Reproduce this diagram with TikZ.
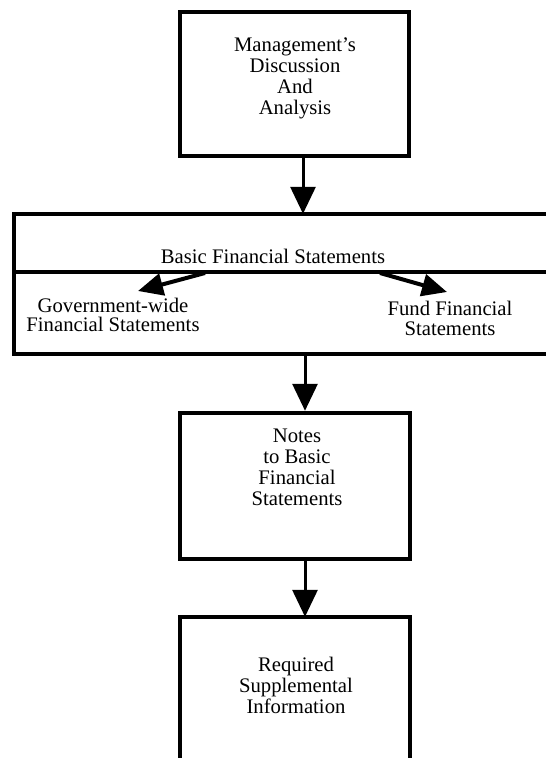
\documentclass[tikz,border=0pt]{standalone}
\usepackage{fontspec}
\setmainfont{Liberation Serif}
\usetikzlibrary{arrows.meta}
\begin{document}
\begin{tikzpicture}[x=1pt,y=-1pt,
  border/.style={line width=4.5pt, line cap=butt, line join=miter},
  box/.style={draw, border, inner sep=0pt},
  txt/.style={align=center, inner sep=0pt, font=\fontsize{20.7}{21}\selectfont},
  arr/.style={line width=3pt, -{Triangle[width=25pt,length=27pt]}},
  sarr/.style={line width=4pt, -{Triangle[width=22pt,length=25pt]}}]
\useasboundingbox (0,0) rectangle (546,758);
% top box
\node[box, minimum width=229pt, minimum height=144pt] (mda) at (294.5,84) {};
\node[txt] (mdat) at (295,78) {Management's\\Discussion\\And\\Analysis};
% basic financial statements (open on the right)
\node[inner sep=0pt, minimum width=536pt, minimum height=140pt] (bfs) at (282,284) {};
\draw[border] (bfs.north east) -- (bfs.north west) -- (bfs.south west) -- (bfs.south east);
\coordinate (dl) at (14,272);
\coordinate (dr) at (550,272);
\draw[border] (dl) -- (dr);
\node[txt, anchor=base] (bfst) at (273,263) {Basic Financial Statements};
\node[txt, font=\fontsize{20.7}{19.5}\selectfont] (gw) at (113,315) {Government-wide\\Financial Statements};
\node[txt, font=\fontsize{20.7}{20}\selectfont] (ff) at (450,318) {Fund Financial\\Statements};
\coordinate (la) at (205,273);
\coordinate (lt) at (138,291);
\coordinate (ra) at (380,273);
\coordinate (rt) at (447,292);
\draw[sarr] (la) -- (lt);
\draw[sarr] (ra) -- (rt);
% notes box
\node[box, minimum width=230pt, minimum height=146pt] (notes) at (295,486) {};
\node[txt] (notest) at (297,467) {Notes\\to Basic\\Financial\\Statements};
% required supplemental information (open at the bottom)
\node[inner sep=0pt, minimum width=230pt, minimum height=146pt] (rsi) at (295,690) {};
\draw[border] (rsi.south west) -- (rsi.north west) -- (rsi.north east) -- (rsi.south east);
\node[txt] (rsit) at (296,685) {Required\\Supplemental\\Information};
% connectors
\coordinate (ax) at (303,0);
\draw[arr] (mda.south -| ax) -- (bfs.north -| ax);
\coordinate (bx) at (305,0);
\draw[arr] (bfs.south -| bx) -- (notes.north -| bx);
\draw[arr] (notes.south -| bx) -- (rsi.north -| bx);
\end{tikzpicture}
\end{document}
